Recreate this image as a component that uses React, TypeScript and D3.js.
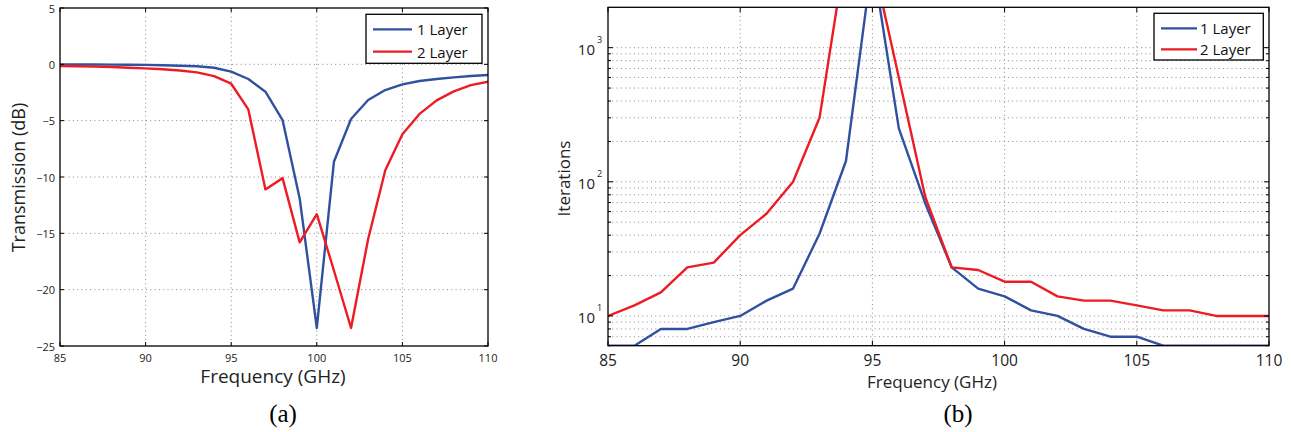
import React from "react";
import * as d3 from "d3";

// frequency samples (GHz)
const freq = [85, 86, 87, 88, 89, 90, 91, 92, 93, 94, 95, 96, 97, 98, 99, 100, 101, 102, 103, 104, 105, 106, 107, 108, 109, 110];

// (a) transmission, dB
const trans1 = [-0.02, -0.02, -0.02, -0.03, -0.04, -0.05, -0.08, -0.12, -0.17, -0.3, -0.65, -1.3, -2.43, -4.95, -11.9, -23.4, -8.65, -4.85, -3.17, -2.28, -1.78, -1.48, -1.3, -1.16, -1.04, -0.95];
const trans2 = [-0.15, -0.17, -0.2, -0.24, -0.3, -0.36, -0.44, -0.55, -0.71, -1.04, -1.72, -4.0, -11.1, -10.1, -15.8, -13.3, -18.3, -23.4, -15.5, -9.4, -6.2, -4.4, -3.2, -2.4, -1.85, -1.54];

// (b) iterations
const iter1 = [6, 6, 8, 8, 9, 10, 13, 16, 41, 143, 4500, 250, 69, 23, 16, 14, 11, 10, 8, 7, 7, 6, 6, 6, 6, 6];
const iter2 = [10, 12, 15, 23, 25, 40, 58, 100, 300, 5400, 4600, 600, 77, 23, 22, 18, 18, 14, 13, 13, 12, 11, 11, 10, 10, 10];

const xTicks = [85, 90, 95, 100, 105, 110];
const yTicksA = [-25, -20, -15, -10, -5, 0, 5];
const yMajorB = [10, 100, 1000];
const yMinorB = [6, 7, 8, 9, 20, 30, 40, 50, 60, 70, 80, 90, 200, 300, 400, 500, 600, 700, 800, 900];
const seriesNames = ["1 Layer", "2 Layer"];
const colors = ["#3050a0", "#ed1c24"];

const SANS = "'Open Sans', 'Noto Sans', sans-serif";
const SERIF = "'Liberation Serif', 'Times New Roman', serif";
const GRID = { stroke: "#6a6a6a", strokeWidth: 0.8, strokeDasharray: "1,3.3" };

function Legend({ x0, x1, y0, y1, rows, lineX0, lineX1, textX }) {
  return (
    <g>
      <rect x={x0} y={y0} width={x1 - x0} height={y1 - y0} fill="white" stroke="black" strokeWidth={1.3} />
      {seriesNames.map((n, i) => (
        <g key={n}>
          <line x1={lineX0} x2={lineX1} y1={rows[i]} y2={rows[i]} stroke={colors[i]} strokeWidth={2.3} />
          <text x={textX} y={rows[i]} dominantBaseline="central" fontFamily={SANS} fontSize={15} fill="#111">{n}</text>
        </g>
      ))}
    </g>
  );
}

function PanelA() {
  const x = d3.scaleLinear().domain([85, 110]).range([60, 488]);
  const y = d3.scaleLinear().domain([-25, 5]).range([346, 8]);
  const line = d3.line<number>().x((_, i) => x(freq[i])).y(d => y(d));
  const [L, R] = x.range();
  const [B, T] = y.range();
  return (
    <g>
      <defs>
        <clipPath id="clipA"><rect x={L} y={T} width={R - L} height={B - T} /></clipPath>
      </defs>
      {xTicks.slice(1, -1).map(t => (
        <line key={"gx" + t} x1={x(t)} x2={x(t)} y1={T} y2={B} {...GRID} />
      ))}
      {yTicksA.slice(1, -1).map(t => (
        <line key={"gy" + t} x1={L} x2={R} y1={y(t)} y2={y(t)} {...GRID} />
      ))}
      <g clipPath="url(#clipA)">
        {[trans1, trans2].map((s, i) => (
          <path key={i} d={line(s) || ""} fill="none" stroke={colors[i]} strokeWidth={2.4} strokeLinejoin="round" />
        ))}
      </g>
      <rect x={L} y={T} width={R - L} height={B - T} fill="none" stroke="black" strokeWidth={1.3} />
      {xTicks.map(t => (
        <g key={"tx" + t}>
          <line x1={x(t)} x2={x(t)} y1={B} y2={B - 4} stroke="black" />
          <line x1={x(t)} x2={x(t)} y1={T} y2={T + 4} stroke="black" />
          <text x={x(t)} y={361.5} textAnchor="middle" fontFamily={SANS} fontSize={11} fill="#222">{t}</text>
        </g>
      ))}
      {yTicksA.map(t => (
        <g key={"ty" + t}>
          <line x1={L} x2={L + 4} y1={y(t)} y2={y(t)} stroke="black" />
          <line x1={R} x2={R - 4} y1={y(t)} y2={y(t)} stroke="black" />
          <text x={55} y={y(t)} textAnchor="end" dominantBaseline="central" fontFamily={SANS} fontSize={11} fill="#222">
            {t < 0 ? "\u2212" + Math.abs(t) : t}
          </text>
        </g>
      ))}
      <text x={273} y={383} textAnchor="middle" fontFamily={SANS} fontSize={19} fill="#222">Frequency (GHz)</text>
      <text transform="translate(25,177.5) rotate(-90)" textAnchor="middle" fontFamily={SANS} fontSize={18} fill="#222">Transmission (dB)</text>
      <Legend x0={366} x1={482} y0={14.3} y1={63.3} rows={[29.3, 51.7]} lineX0={373} lineX1={412} textX={417} />
      <text x={283} y={422} textAnchor="middle" fontFamily={SERIF} fontSize={25} fill="#000">(a)</text>
    </g>
  );
}

function PanelB() {
  const x = d3.scaleLinear().domain([85, 110]).range([608, 1269]);
  const y = d3.scaleLog().domain([6, 2000]).range([345.7, 7.3]);
  const line = d3.line<number>().x((_, i) => x(freq[i])).y(d => y(d));
  const [L, R] = x.range();
  const [B, T] = y.range();
  return (
    <g>
      <defs>
        <clipPath id="clipB"><rect x={L} y={T} width={R - L} height={B - T} /></clipPath>
      </defs>
      {xTicks.slice(1, -1).map(t => (
        <line key={"gx" + t} x1={x(t)} x2={x(t)} y1={T} y2={B} {...GRID} />
      ))}
      {[...yMajorB, ...yMinorB].map(t => (
        <line key={"gy" + t} x1={L} x2={R} y1={y(t)} y2={y(t)} {...GRID} />
      ))}
      <g clipPath="url(#clipB)">
        {[iter1, iter2].map((s, i) => (
          <path key={i} d={line(s) || ""} fill="none" stroke={colors[i]} strokeWidth={2.4} strokeLinejoin="round" />
        ))}
      </g>
      <rect x={L} y={T} width={R - L} height={B - T} fill="none" stroke="black" strokeWidth={1.3} />
      {xTicks.map(t => (
        <g key={"tx" + t}>
          <line x1={x(t)} x2={x(t)} y1={B} y2={B - 5} stroke="black" />
          <line x1={x(t)} x2={x(t)} y1={T} y2={T + 5} stroke="black" />
          <text x={x(t)} y={365.5} textAnchor="middle" fontFamily={SANS} fontSize={15.5} fill="#222">{t}</text>
        </g>
      ))}
      {yMinorB.map(t => (
        <g key={"mt" + t}>
          <line x1={L} x2={L + 3} y1={y(t)} y2={y(t)} stroke="black" />
          <line x1={R} x2={R - 3} y1={y(t)} y2={y(t)} stroke="black" />
        </g>
      ))}
      {yMajorB.map(t => (
        <g key={"ty" + t}>
          <line x1={L} x2={L + 5} y1={y(t)} y2={y(t)} stroke="black" />
          <line x1={R} x2={R - 5} y1={y(t)} y2={y(t)} stroke="black" />
          <text x={595} y={y(t) + 1.5} textAnchor="end" dominantBaseline="central" fontFamily={SANS} fontSize={15} fill="#222">10</text>
          <text x={597} y={y(t) - 5} fontFamily={SANS} fontSize={9} fill="#222">{Math.round(Math.log10(t))}</text>
        </g>
      ))}
      <text x={932} y={388} textAnchor="middle" fontFamily={SANS} fontSize={17} fill="#222">Frequency (GHz)</text>
      <text transform="translate(569.5,178.5) rotate(-90)" textAnchor="middle" fontFamily={SANS} fontSize={17} fill="#222">Iterations</text>
      <Legend x0={1154} x1={1263.3} y0={13.3} y1={60} rows={[28.3, 49.3]} lineX0={1161} lineX1={1197} textX={1200} />
      <text x={958} y={422} textAnchor="middle" fontFamily={SERIF} fontSize={25} fill="#000">(b)</text>
    </g>
  );
}

export default function App() {
  return (
    <svg width={1292} height={432} style={{ position: "absolute", left: 0, top: 0, background: "white" }}>
      <rect width={1292} height={432} fill="white" />
      <PanelA />
      <PanelB />
    </svg>
  );
}
